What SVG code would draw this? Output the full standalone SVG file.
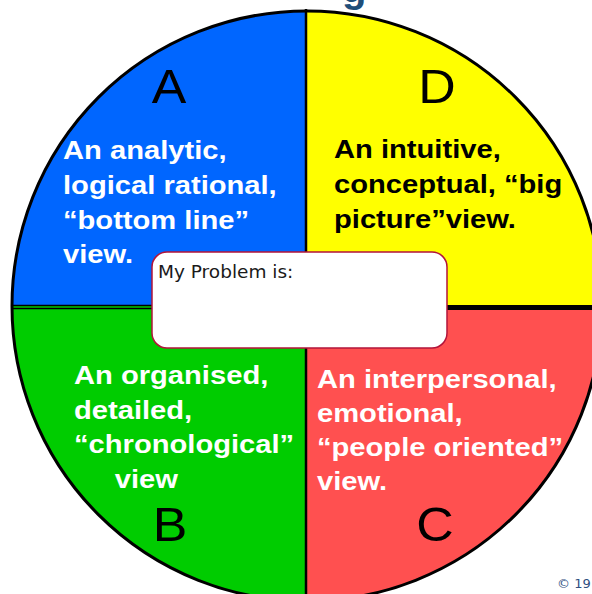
<svg xmlns="http://www.w3.org/2000/svg" width="592" height="594" viewBox="0 0 592 594">
<style>
.big{font-family:"Liberation Sans",Arial,sans-serif;font-size:48px;fill:#000;text-anchor:middle}
.body{font-family:"Liberation Sans",Arial,sans-serif;font-size:26.5px;font-weight:bold}
.w{fill:#fff}
.k{fill:#000}
</style>
<rect width="592" height="594" fill="#fff"/>
<text x="342" y="1.5" font-family="Liberation Sans,Arial,sans-serif" font-weight="bold" font-size="40" fill="#1F4E79">g</text>
<g id="quadrant-A"><path d="M307,306 L12,306 A295,295 0 0 1 307,11 Z" fill="#0066FF"/></g>
<g id="quadrant-D"><path d="M307,306 L307,11 A295,295 0 0 1 602,306 Z" fill="#FFFF00"/></g>
<g id="quadrant-C"><path d="M307,306 L602,306 A295,295 0 0 1 307,601 Z" fill="#FF5050"/></g>
<g id="quadrant-B"><path d="M307,306 L307,601 A295,295 0 0 1 12,306 Z" fill="#00CC00"/></g>
<g id="connectors">
<circle cx="307" cy="306" r="295" fill="none" stroke="#000" stroke-width="3"/>
<line x1="306" y1="9" x2="306" y2="603" stroke="#000" stroke-width="2.5"/>
<line x1="12" y1="305.5" x2="306" y2="305.5" stroke="#000" stroke-width="1.5"/>
<line x1="12" y1="308.5" x2="306" y2="308.5" stroke="#000" stroke-width="1.5"/>
<line x1="306" y1="307.5" x2="602" y2="307.5" stroke="#000" stroke-width="5"/>
</g>
<g id="label-A"><g transform="translate(169,0) scale(1.08,1)"><text class="big" x="0" y="103">A</text></g></g>
<g id="label-D"><g transform="translate(437,0) scale(1.08,1)"><text class="big" x="0" y="103">D</text></g></g>
<g id="label-B"><g transform="translate(170,0) scale(1.08,1)"><text class="big" x="0" y="541">B</text></g></g>
<g id="label-C"><g transform="translate(435,0) scale(1.08,1)"><text class="big" x="0" y="541">C</text></g></g>
<g id="text-A" transform="translate(63,0) scale(1.1,1)">
<text class="body w" x="0" y="159">An analytic,</text>
<text class="body w" x="0" y="194">logical rational,</text>
<text class="body w" x="0" y="229">“bottom line”</text>
<text class="body w" x="0" y="263">view.</text>
</g>
<g id="text-D" transform="translate(334,0) scale(1.1,1)">
<text class="body k" x="0" y="158">An intuitive,</text>
<text class="body k" x="0" y="193">conceptual, “big</text>
<text class="body k" x="0" y="228">picture”view.</text>
</g>
<g id="text-B" transform="translate(74,0) scale(1.1,1)">
<text class="body w" x="0" y="384">An organised,</text>
<text class="body w" x="0" y="419">detailed,</text>
<text class="body w" x="0" y="453">“chronological”</text>
<text class="body w" x="37" y="488">view</text>
</g>
<g id="text-C" transform="translate(317,0) scale(1.1,1)">
<text class="body w" x="0" y="388">An interpersonal,</text>
<text class="body w" x="0" y="422">emotional,</text>
<text class="body w" x="0" y="456">“people oriented”</text>
<text class="body w" x="0" y="490">view.</text>
</g>
<g id="problem-box">
<rect x="152" y="252" width="295" height="96" rx="15" ry="15" fill="#fff" stroke="#B3143A" stroke-width="1.5"/>
<text x="158" y="278" font-family="DejaVu Sans,Verdana,sans-serif" font-size="18.5" fill="#1a1a1a">My Problem is:</text>
</g>
<text x="557" y="588" font-family="DejaVu Sans,Verdana,sans-serif" font-size="13" fill="#2F4F7F">© 19</text>
</svg>
